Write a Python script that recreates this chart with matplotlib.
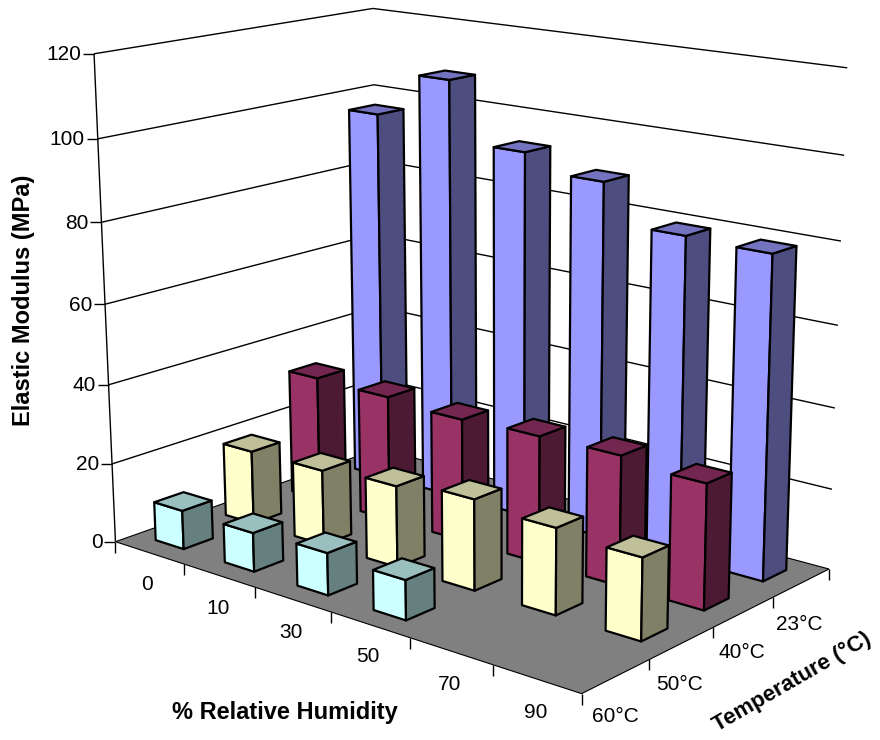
import numpy as np
import matplotlib
matplotlib.use("Agg")
import matplotlib.pyplot as plt
from matplotlib.patches import Polygon

plt.rcParams['font.family'] = ['Liberation Sans', 'DejaVu Sans']

humidity = ['0', '10', '30', '50', '70', '90']
temps = ['60°C', '50°C', '40°C', '23°C']
modulus_60 = [9.8, 9.7, 10.4, 9.7]
modulus_50 = [18.8, 19, 20.3, 22.4, 21, 19.7]
modulus_40 = [32.3, 32, 31, 31.7, 32, 30.5]
modulus_23 = [96.5, 108, 93, 89, 79.5, 79]
series = [modulus_60, modulus_50, modulus_40, modulus_23]
colours = [('#CCFFFF', '#668080', '#99BFBF'),
           ('#FFFFCC', '#808066', '#BFBF99'),
           ('#993366', '#4D1A33', '#732650'),
           ('#9999FF', '#4D4D80', '#7373BF')]
z_ticks = [0, 20, 40, 60, 80, 100, 120]

# camera calibration: (category x, series y, value z) -> pixel
calib = [((6, 0, 0), (582, 694)), ((0, 0, 0), (114, 541)), ((6, 4, 0), (828, 569)),
         ((0, 4, 0), (381, 449)), ((0, 0, 120), (95, 54)), ((0, 4, 120), (372, 8)),
         ((6, 4, 120), (848, 68)), ((0, 0, 100), (98, 139)), ((6, 4, 100), (844, 155)),
         ((0, 4, 100), (373, 85)), ((6, 4, 20), (832, 489))]
A = []
for (X, Y, Z), (u, v) in calib:
    A.append([X, Y, Z, 1, 0, 0, 0, 0, -u*X, -u*Y, -u*Z, -u])
    A.append([0, 0, 0, 0, X, Y, Z, 1, -v*X, -v*Y, -v*Z, -v])
P = np.linalg.svd(np.array(A, float))[2][-1].reshape(3, 4)


def pr(x, y, z):
    h = P @ np.array([x, y, z, 1.0])
    return h[0] / h[2], h[1] / h[2]


fig = plt.figure(figsize=(8.8, 7.4), dpi=100)
ax = fig.add_axes([0, 0, 1, 1])
ax.set_xlim(0, 880)
ax.set_ylim(740, 0)
ax.axis('off')
nx, ny = len(humidity), len(temps)


def line(a, b, lw=1.0, c='black', z=1):
    ax.plot([a[0], b[0]], [a[1], b[1]], color=c, lw=lw, solid_capstyle='butt', zorder=z)


# walls
for zt in z_ticks:
    if zt > 0:
        line(pr(0, 0, zt), pr(0, ny, zt))
        line(pr(0, ny, zt), pr(nx, ny, zt))
    p = pr(0, 0, zt)
    line((p[0] - 11, p[1]), p)
    ax.text(p[0] - 13, p[1] + 1, str(zt), ha='right', va='center', fontsize=15, color='black')
line(pr(0, 0, 0), pr(0, 0, 120))
# floor
ax.add_patch(Polygon([pr(0, 0, 0), pr(nx, 0, 0), pr(nx, ny, 0), pr(0, ny, 0)], closed=True,
                     fc='#808080', ec='black', lw=0.8, zorder=2))
for i in range(nx + 1):
    p = pr(i, 0, 0)
    line(p, (p[0], p[1] + 11), z=2)
for j in range(1, ny + 1):
    p = pr(nx, j, 0)
    line(p, (p[0], p[1] + 11), z=2)

# bars, painted back to front
wx, wy = 0.41, 0.41
cx = 0.485
zo = 3
for j in range(ny - 1, -1, -1):
    front, side, top = colours[j]
    for i, val in enumerate(series[j]):
        x0, x1 = i + cx - wx / 2, i + cx + wx / 2
        y0, y1 = j + .5 - wy / 2, j + .5 + wy / 2
        faces = [([pr(x0, y0, 0), pr(x1, y0, 0), pr(x1, y0, val), pr(x0, y0, val)], front),
                 ([pr(x1, y0, 0), pr(x1, y1, 0), pr(x1, y1, val), pr(x1, y0, val)], side),
                 ([pr(x0, y0, val), pr(x1, y0, val), pr(x1, y1, val), pr(x0, y1, val)], top)]
        for pts, col in faces:
            ax.add_patch(Polygon(pts, closed=True, fc=col, ec='black', lw=1.6,
                                 joinstyle='round', zorder=zo))
        zo += 1

# category labels
cat_pos = [(147, 585), (218, 608), (291, 632), (368, 657), (450, 684), (536, 713)]
for lab, (u, v) in zip(humidity, cat_pos):
    ax.text(u, v, lab, ha='center', va='center', fontsize=15)
ser_pos = [(615, 717), (680, 684), (742, 652), (799, 624)]
for lab, (u, v) in zip(temps, ser_pos):
    ax.text(u, v, lab, ha='center', va='center', fontsize=15)

ax.text(24, 300, 'Elastic Modulus (MPa)', rotation=90, ha='center', va='center',
        fontsize=17, fontweight='bold')
ax.text(285, 712, '% Relative Humidity', ha='center', va='center', fontsize=17, fontweight='bold')
ax.text(792, 682, 'Temperature (°C)', rotation=30, ha='center', va='center',
        fontsize=16, fontweight='bold', rotation_mode='anchor')

fig.savefig('out.png', dpi=100)
